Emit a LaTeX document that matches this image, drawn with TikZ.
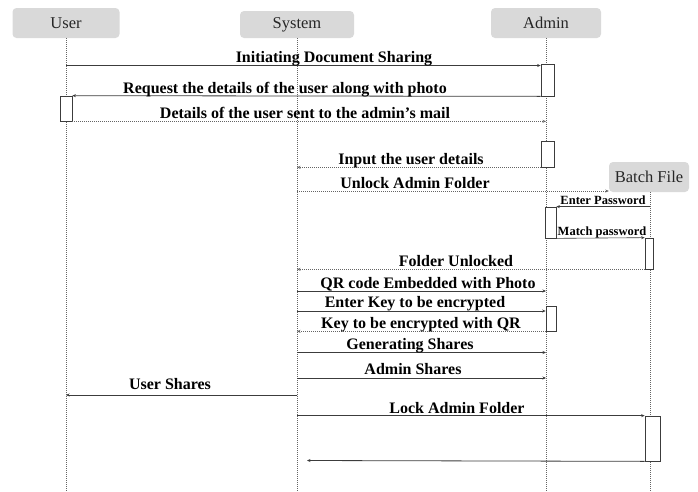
\documentclass[tikz,border=0pt]{standalone}
\usepackage{fontspec}
\setmainfont{Liberation Serif}
\usetikzlibrary{arrows.meta}
\definecolor{hdrfill}{RGB}{217,217,217}
\definecolor{linegray}{RGB}{60,60,60}
\definecolor{lifegray}{RGB}{100,100,100}
\tikzset{
  x=1pt, y=-1pt,
  header/.style={fill=hdrfill, rounded corners=4pt, inner sep=0pt,
    font=\fontsize{16.5}{16.5}\selectfont, text=black!85},
  lifeline/.style={draw=lifegray, line width=0.5pt, dash pattern=on 1pt off 1pt},
  actbox/.style={draw=linegray, fill=white, line width=0.7pt, inner sep=0pt},
  msg/.style={draw=linegray, line width=0.8pt, -{Stealth[length=3.5pt,width=3pt]}},
  reply/.style={draw=lifegray, line width=0.7pt, dash pattern=on 1pt off 1pt,
    -{Stealth[length=3.5pt,width=3pt]}},
  lbl/.style={anchor=base, inner sep=0pt, text=black,
    font=\bfseries\fontsize{16}{16}\selectfont},
  smalllbl/.style={anchor=base, inner sep=0pt, text=black,
    font=\bfseries\fontsize{12.5}{12.5}\selectfont},
}
\begin{document}
\begin{tikzpicture}
\useasboundingbox (0,0) rectangle (698,491);

% participants
\node[header, minimum width=107, minimum height=30] (u) at (66,23) {User};
\node[header, minimum width=114, minimum height=27] (s) at (297,24.5) {System};
\node[header, minimum width=110, minimum height=30] (a) at (546,23) {Admin};
\node[header, minimum width=80, minimum height=30] (b) at (649,177) {Batch File};

% lifeline ends
\coordinate (ue) at (66,491);
\coordinate (se) at (297,491);
\coordinate (ae) at (546,491);
\coordinate (be) at (650,491);

\draw[lifeline] (u.south) -- (ue);
\draw[lifeline] (s.south) -- (se);
\draw[lifeline] (a.south) -- (ae);
\draw[lifeline] (b.south -| be) -- (be);

% activation bars
\node[actbox, minimum width=13, minimum height=32] (a1) at (547.5,80) {};
\node[actbox, minimum width=12, minimum height=25] (u1) at (66,108.5) {};
\node[actbox, minimum width=13, minimum height=26] (a2) at (547.5,154) {};
\node[actbox, minimum width=11, minimum height=31] (a3) at (550.5,222.5) {};
\node[actbox, minimum width=8, minimum height=31] (b1) at (649,253.5) {};
\node[actbox, minimum width=10, minimum height=25] (a4) at (551,318.5) {};
\node[actbox, minimum width=15, minimum height=45] (b2) at (652.5,438.5) {};

% messages
\draw[msg] (u |- 0,65.5) -- (a1.west |- 0,65.5);
\node[lbl] (l1) at (334,62) {Initiating Document Sharing};

\draw[msg] (a1.south west) -- (u1.north east);
\node[lbl] (l2) at (285,93) {Request the details of the user along with photo};

\draw[reply] (u1.south east) -- (a |- u1.south);
\node[lbl] (l3) at (305,118) {Details of the user sent to the admin’s mail};

\draw[reply] (a2.south west) -- (s |- a2.south);
\node[lbl] (l4) at (411,164) {Input the user details};

\draw[reply] (s |- 0,191) -- (b.south west |- 0,191);
\node[lbl] (l5) at (415,188) {Unlock Admin Folder};

\draw[msg, line width=0.6pt] (be |- a3.north) -- (a3.north east);
\node[smalllbl] (l6) at (603,204) {Enter Password};

\draw[msg, line width=0.6pt] (a3.south east) -- (b1.north west);
\node[smalllbl] (l7) at (602,235) {Match password};

\draw[reply] (b1.south west) -- (s |- b1.south);
\node[lbl] (l8) at (456,266) {Folder Unlocked};

\draw[msg] (s |- 0,291) -- (a |- 0,291);
\node[lbl] (l9) at (428,288) {QR code Embedded with Photo};

\draw[msg] (s |- 0,311) -- (a4.west |- 0,311);
\node[lbl] (l10) at (415,307) {Enter Key to be encrypted};

\draw[reply] (a4.south west) -- (s |- a4.south);
\node[lbl] (l11) at (421,328) {Key to be encrypted with QR};

\draw[msg] (s |- 0,352.5) -- (a |- 0,352.5);
\node[lbl] (l12) at (410,349) {Generating Shares};

\draw[msg] (s |- 0,378) -- (a |- 0,378);
\node[lbl] (l13) at (413,374) {Admin Shares};

\draw[msg] (s |- 0,395) -- (u |- 0,395);
\node[lbl] (l14) at (170,389) {User Shares};

\draw[msg] (s |- b2.north) -- (b2.north west);
\node[lbl] (l15) at (457,413) {Lock Admin Folder};

\coordinate (ret) at (307,460.5);
\draw[msg] (b2.south west) -- (ret);
\end{tikzpicture}
\end{document}
